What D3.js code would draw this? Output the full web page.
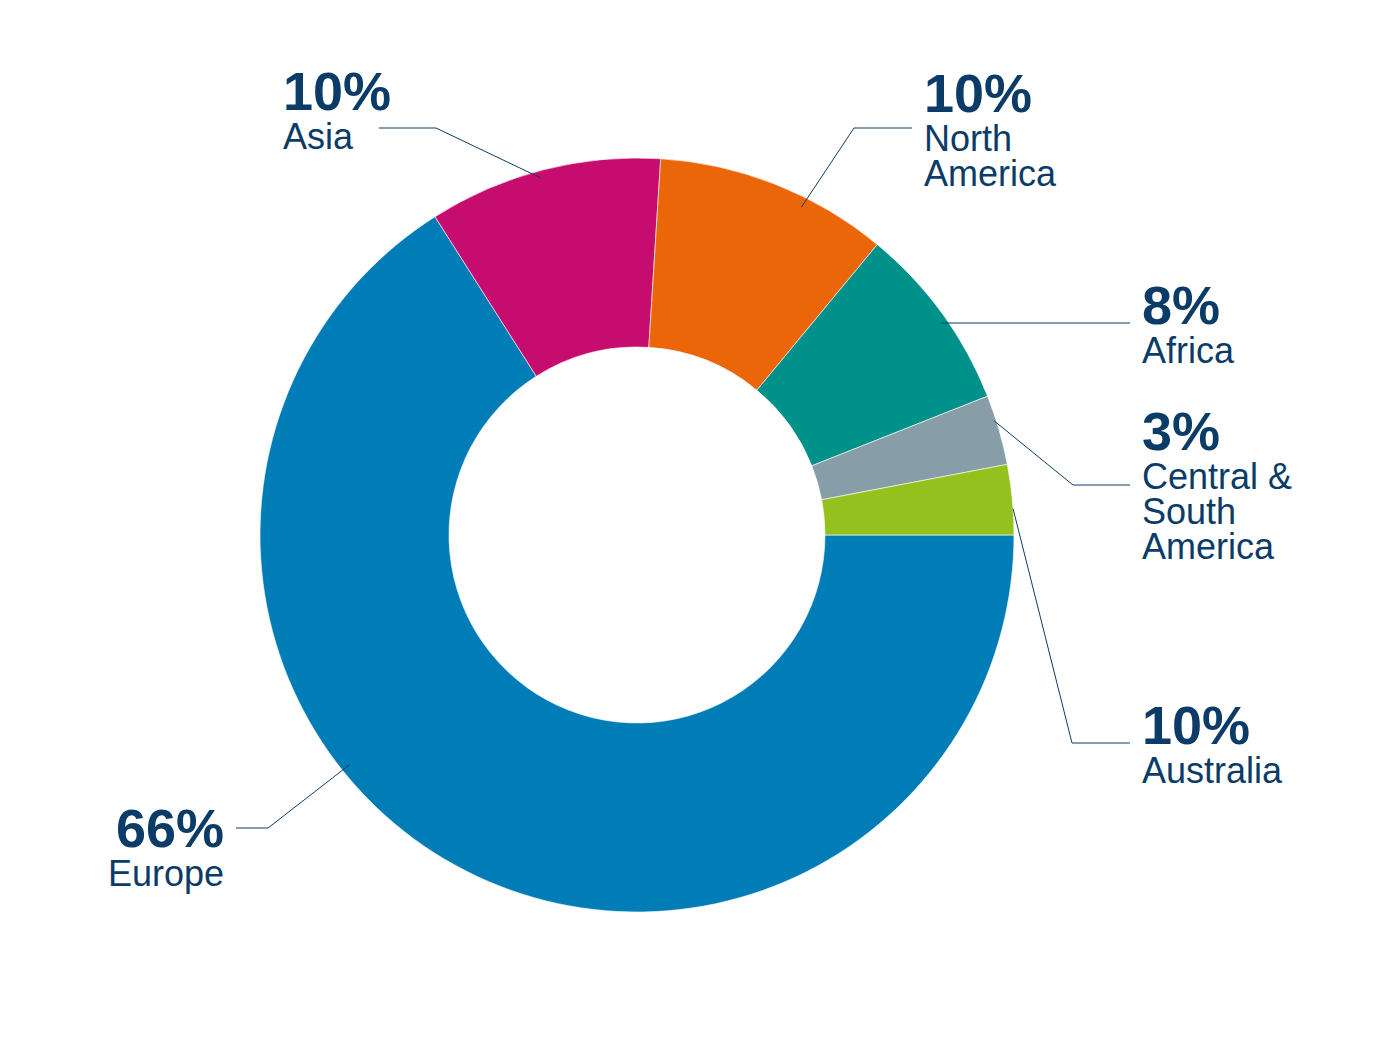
<!DOCTYPE html>
<html>
<head>
<meta charset="utf-8">
<script src="https://cdn.jsdelivr.net/npm/d3@7"></script>
<style>
  body { margin: 0; background: #ffffff; }
  svg text { font-family: "Liberation Sans", Arial, sans-serif; }
</style>
</head>
<body>
<div id="chart"></div>
<script>
// Regions in drawing order (clockwise from 3 o'clock)
var regions = ["Europe", "Asia", "North America", "Africa", "Central & South America", "Australia"];
var shares = [66, 10, 10, 8, 3, 3];
// Printed labels as in the original (Australia is printed as 10%)
var pctLabels = ["66%", "10%", "10%", "8%", "3%", "10%"];
var nameLines = [["Europe"], ["Asia"], ["North", "America"], ["Africa"], ["Central &", "South", "America"], ["Australia"]];
var colors = ["#007cb6", "#c60c6f", "#eb6608", "#00918a", "#879ea8", "#95c11f"];

document.addEventListener('DOMContentLoaded', function () {
    var width = 1400, height = 1050;
    var cx = 637, cy = 535;
    var outerR = 377, innerR = 188;
    var textColor = "#0b3c68";

    var svg = d3.select("#chart")
        .append("svg")
        .attr("width", width)
        .attr("height", height);

    var data = regions.map(function (r, i) {
        return { region: r, value: shares[i], pct: pctLabels[i], lines: nameLines[i], color: colors[i] };
    });

    // Start at 3 o'clock and go clockwise
    var pie = d3.pie()
        .sort(null)
        .value(function (d) { return d.value; })
        .startAngle(Math.PI / 2)
        .endAngle(Math.PI / 2 + 2 * Math.PI);

    var arc = d3.arc()
        .innerRadius(innerR)
        .outerRadius(outerR);

    var arcs = pie(data);

    var g = svg.append("g")
        .attr("transform", "translate(" + cx + "," + cy + ")");

    g.selectAll("path")
        .data(arcs)
        .enter()
        .append("path")
        .attr("d", arc)
        .attr("fill", function (d) { return d.data.color; })
        .attr("stroke", "#ffffff")
        .attr("stroke-width", 0.6);

    // Label placement: where along the slice the leader starts, elbow and text position
    var layout = [
        { t: 0.595, r: 368, elbow: [268, 828], end: [236, 828], tx: 224, ty: 847, anchor: "end" },
        { t: 0.48, r: 370, elbow: [436, 128], end: [379, 128], tx: 283, ty: 110, anchor: "start" },
        { t: 0.64, r: 367, elbow: [854, 128], end: [912, 128], tx: 924, ty: 112, anchor: "start" },
        { t: 0.54, r: 371, elbow: [1000, 323], end: [1130, 323], tx: 1142, ty: 324, anchor: "start" },
        { t: 0.36, r: 375, elbow: [1073, 485], end: [1130, 485], tx: 1142, ty: 450, anchor: "start" },
        { t: 0.63, r: 377, elbow: [1072, 743], end: [1130, 743], tx: 1142, ty: 744, anchor: "start" }
    ];

    arcs.forEach(function (a, i) {
        var L = layout[i];
        var ang = a.startAngle + L.t * (a.endAngle - a.startAngle);
        var px = cx + L.r * Math.sin(ang);
        var py = cy - L.r * Math.cos(ang);

        svg.append("polyline")
            .attr("points", [[px, py], L.elbow, L.end].map(function (p) { return p.join(","); }).join(" "))
            .attr("fill", "none")
            .attr("stroke", textColor)
            .attr("stroke-width", 1);

        svg.append("text")
            .attr("x", L.tx)
            .attr("y", L.ty)
            .attr("text-anchor", L.anchor)
            .style("font-size", "54px")
            .style("font-weight", "bold")
            .style("fill", textColor)
            .text(a.data.pct);

        a.data.lines.forEach(function (line, j) {
            svg.append("text")
                .attr("x", L.tx)
                .attr("y", L.ty + 39 + j * 35)
                .attr("text-anchor", L.anchor)
                .style("font-size", "36px")
                .style("fill", textColor)
                .text(line);
        });
    });
});
</script>
</body>
</html>
